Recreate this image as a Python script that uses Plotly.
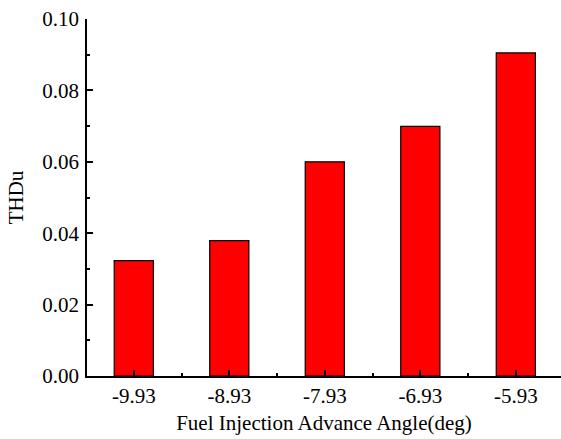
import plotly.graph_objects as go

# Fuel injection advance angle (deg) and total harmonic distortion of voltage
angles = ["-9.93", "-8.93", "-7.93", "-6.93", "-5.93"]
thdu = [0.0323, 0.0379, 0.0600, 0.0699, 0.0905]
positions = list(range(len(angles)))

font_family = "Liberation Serif, Times New Roman, serif"

fig = go.Figure(
    go.Bar(
        x=positions,
        y=thdu,
        width=0.41,
        marker=dict(color="#FF0000", line=dict(color="#000000", width=1.2)),
    )
)

fig.update_layout(
    width=561,
    height=439,
    margin=dict(l=87, r=0, t=19, b=63),
    paper_bgcolor="white",
    plot_bgcolor="white",
    showlegend=False,
    font=dict(family=font_family, size=21, color="black"),
)

fig.update_xaxes(
    range=[-0.49, 4.473],
    tickvals=positions,
    ticktext=angles,
    ticks="inside",
    ticklen=6,
    tickwidth=1.5,
    tickcolor="black",
    minor=dict(tick0=0.5, dtick=1, ticks="inside", ticklen=3, tickwidth=1.5, tickcolor="black"),
    showline=True,
    linecolor="black",
    linewidth=1.5,
    showgrid=False,
    zeroline=False,
    tickfont=dict(size=21, color="black"),
    ticklabelstandoff=0,
    title=dict(text="Fuel Injection Advance Angle(deg)", font=dict(size=21, color="black"), standoff=8),
)

fig.update_yaxes(
    range=[0, 0.1],
    tick0=0,
    dtick=0.02,
    tickformat=".2f",
    ticks="inside",
    ticklen=6,
    tickwidth=1.5,
    tickcolor="black",
    minor=dict(dtick=0.01, ticks="inside", ticklen=3, tickwidth=1.5, tickcolor="black"),
    showline=True,
    linecolor="black",
    linewidth=1.5,
    showgrid=False,
    zeroline=False,
    tickfont=dict(size=21, color="black"),
    ticklabelstandoff=2,
    title=dict(text="THDu", font=dict(size=21, color="black"), standoff=13),
)

fig.write_html("out.html")
